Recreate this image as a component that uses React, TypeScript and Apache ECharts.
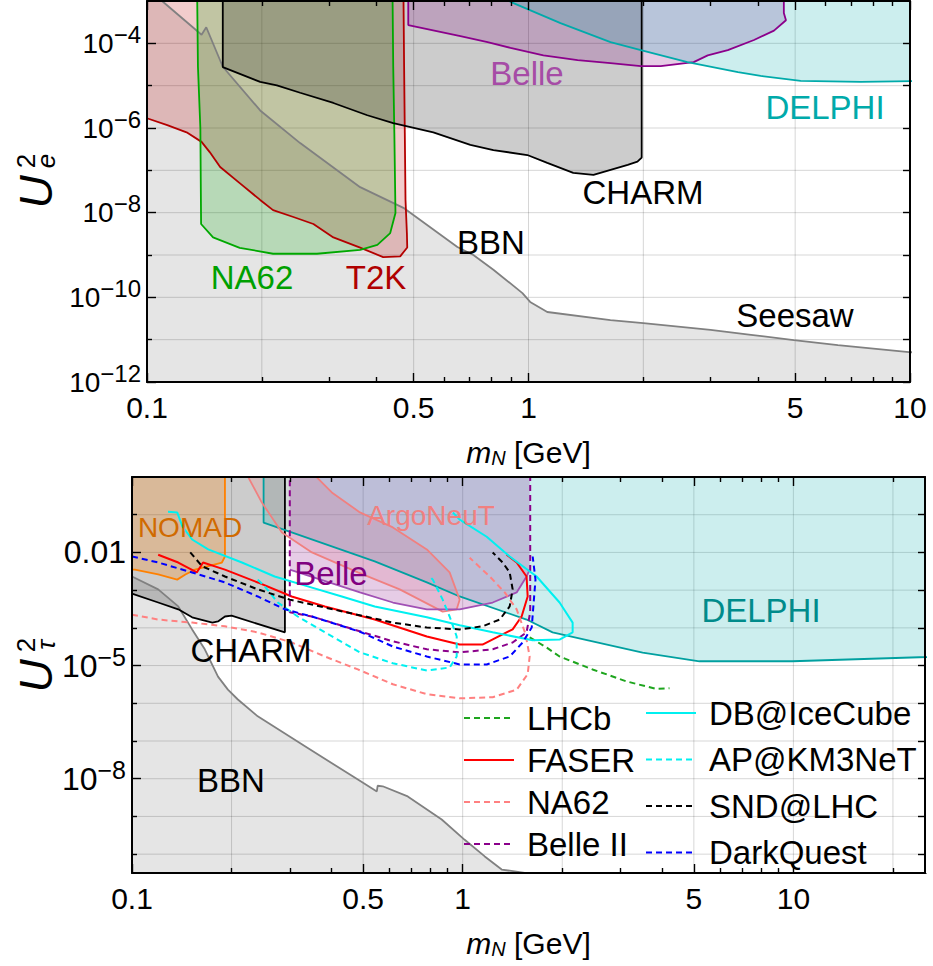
import React, { useEffect, useRef } from 'react';
import * as echarts from 'echarts';

type P = [number, number];
const FONT = "'Liberation Sans', Arial, Helvetica, sans-serif";

// ---------------- axes / ticks ----------------
const topX: P = [0.1, 10];
const topY: P = [1e-12, 1e-3];
const botX: P = [0.1, 25];
const botY: P = [Math.pow(10, -10.5), 1];

const topXMajor = [0.1, 0.5, 1, 5, 10];
const topXMinor = [0.2, 0.3, 0.4, 0.6, 0.7, 0.8, 0.9, 2, 3, 4, 6, 7, 8, 9];
const topXGrid = [0.2, 0.5, 1, 2, 5];
const topYTicks = [1e-12, 1e-11, 1e-10, 1e-9, 1e-8, 1e-7, 1e-6, 1e-5, 1e-4];
const topYLabels = [1e-12, 1e-10, 1e-8, 1e-6, 1e-4];
const topYGrid = [1e-11, 1e-10, 1e-9, 1e-8, 1e-7, 1e-6, 1e-5, 1e-4];

const botXMajor = [0.1, 0.5, 1, 5, 10];
const botXMinor = [0.2, 0.3, 0.4, 0.6, 0.7, 0.8, 0.9, 2, 3, 4, 6, 7, 8, 9, 20];
const botXGrid = [0.2, 0.5, 1, 2, 5, 10, 20];
const botYTicks = [1e-10, 1e-9, 1e-8, 1e-7, 1e-6, 1e-5, 1e-4, 1e-3, 1e-2, 1e-1];
const botYLabels = [1e-8, 1e-5, 1e-2];
const botYGrid = [1e-10, 1e-9, 1e-8, 1e-7, 1e-6, 1e-5, 1e-4, 1e-3, 1e-2, 1e-1];

// ---------------- top panel (U_e^2) regions ----------------
const bbnTop: P[] = [[0.09, 2e-3], [0.106, 2e-3], [0.1095, 1e-3], [0.139, 1.6e-4], [0.143, 2.4e-4], [0.158, 2.8e-5], [0.198, 2.6e-6], [0.252, 4.4e-7], [0.362, 4.0e-8], [0.47, 1.3e-8], [0.651, 1.55e-9], [0.717, 1.0e-9], [0.809, 4.5e-10], [0.964, 1.26e-10], [1.01, 7.8e-11], [1.12, 4.5e-11], [1.64, 2.9e-11], [2.0, 2.45e-11], [3.0, 1.7e-11], [3.83, 1.3e-11], [4.96, 9.8e-12], [6.47, 7.4e-12], [9.94, 5.1e-12], [11, 4.8e-12], [11, 1e-13], [0.09, 1e-13]];
const t2kTop: P[] = [[0.09, 2e-3], [0.09, 1.7e-6], [0.1, 1.7e-6], [0.113, 1.17e-6], [0.127, 7.9e-7], [0.139, 4.7e-7], [0.146, 2.7e-7], [0.1555, 1.2e-7], [0.175, 5e-8], [0.198, 2e-8], [0.214, 1.15e-8], [0.242, 7.9e-9], [0.273, 5.4e-9], [0.308, 2.6e-9], [0.362, 1.5e-9], [0.416, 8.9e-10], [0.461, 9.3e-10], [0.481, 1.5e-9], [0.48, 3.3e-9], [0.476, 2e-8], [0.474, 7.6e-7], [0.472, 2.8e-5], [0.47, 2e-3]];
const na62Top: P[] = [[0.1353, 2e-3], [0.136, 2.8e-5], [0.138, 1e-6], [0.1386, 5.4e-9], [0.149, 2.6e-9], [0.175, 1.48e-9], [0.214, 1.07e-9], [0.279, 1.07e-9], [0.362, 1.32e-9], [0.4016, 1.74e-9], [0.434, 3.3e-9], [0.448, 9.8e-9], [0.445, 7.6e-7], [0.442, 2.8e-5], [0.44, 2e-3]];
const charmTop: P[] = [[0.158, 2e-3], [0.158, 2.75e-5], [0.198, 1.23e-5], [0.219, 1.02e-5], [0.252, 6.8e-6], [0.308, 3.9e-6], [0.378, 2.0e-6], [0.442, 1.3e-6], [0.563, 7.9e-7], [0.704, 4e-7], [0.809, 3.0e-7], [0.993, 2.3e-7], [1.12, 1.5e-7], [1.31, 8.7e-8], [1.48, 7.8e-8], [1.82, 1.35e-7], [1.93, 1.6e-7], [1.98, 2.0e-7], [1.98, 2e-3]];
const belleTop: P[] = [[0.484, 2e-3], [0.484, 2.7e-4], [0.663, 1.48e-4], [0.781, 1.07e-4], [0.897, 7.8e-5], [1.094, 5.2e-5], [1.345, 4e-5], [1.64, 3.4e-5], [1.97, 2.9e-5], [2.22, 2.9e-5], [2.71, 3.6e-5], [2.95, 5.2e-5], [3.33, 6.9e-5], [3.9, 1.2e-4], [4.4, 2.0e-4], [4.73, 3.5e-4], [4.67, 5.2e-4], [4.67, 2e-3]];
const delphiTop: P[] = [[0.84, 2e-3], [0.897, 9.5e-4], [1.213, 3.0e-4], [1.64, 1.07e-4], [1.97, 6.9e-5], [2.61, 3.6e-5], [3.54, 2.1e-5], [4.06, 1.7e-5], [5.17, 1.3e-5], [7.43, 1.23e-5], [11, 1.3e-5], [11, 2e-3]];

// ---------------- bottom panel (U_tau^2) regions ----------------
const bbnBot: P[] = [[0.09, 3e-3], [0.1, 2.3e-3], [0.12, 1.05e-3], [0.138, 3.7e-4], [0.152, 9.1e-5], [0.166, 2.7e-5], [0.182, 5.1e-6], [0.195, 2.3e-6], [0.209, 1.26e-6], [0.24, 4.5e-7], [0.34, 6.5e-8], [0.482, 9.5e-9], [0.55, 4.6e-9], [0.553, 6.5e-9], [0.573, 6.3e-9], [0.682, 3.4e-9], [0.864, 8.3e-10], [1.014, 2.4e-10], [1.166, 8.7e-11], [1.312, 3.9e-11], [1.54, 3.2e-11], [1.8, 3.0e-11], [30, 3.0e-11], [30, 1e-12], [0.09, 1e-12]];
const charmBot: P[] = [[0.09, 1.5], [0.09, 9.5e-4], [0.1, 8.1e-4], [0.12, 4.7e-4], [0.138, 3.1e-4], [0.152, 1.9e-4], [0.175, 1.38e-4], [0.182, 1.48e-4], [0.191, 2e-4], [0.2, 2.1e-4], [0.29, 7.6e-5], [0.29, 1.5]];
const nomadBot: P[] = [[0.09, 1.5], [0.09, 3.5e-3], [0.102, 3.5e-3], [0.12, 2.6e-3], [0.137, 1.9e-3], [0.145, 2.6e-3], [0.155, 3.5e-3], [0.187, 5.4e-3], [0.191, 7.8e-3], [0.191, 1.5]];
const delphiBot: P[] = [[0.25, 1.5], [0.25, 6.2e-2], [0.304, 3.4e-2], [0.542, 5.8e-3], [0.779, 1.6e-3], [0.979, 6.8e-4], [1.56, 1.66e-4], [1.87, 7.6e-5], [2.47, 4.4e-5], [3.5, 2.2e-5], [5.2, 1.3e-5], [9.93, 1.3e-5], [24, 1.66e-5], [30, 1.7e-5], [30, 1.5]];
const argoBot: P[] = [[0.219, 1.5], [0.247, 0.21], [0.284, 3.4e-2], [0.35, 1e-2], [0.482, 2.95e-3], [0.645, 1.05e-3], [0.87, 2.7e-4], [0.959, 3.1e-4], [0.979, 5.6e-4], [0.913, 2.95e-3], [0.779, 1.2e-2], [0.615, 4.6e-2], [0.489, 0.115], [0.402, 0.39], [0.345, 1.5]];
const belleBot: P[] = [[0.3, 1.5], [0.3, 3.5e-3], [0.489, 8.7e-4], [0.615, 4.7e-4], [0.779, 3.1e-4], [0.979, 3.1e-4], [1.232, 4.7e-4], [1.456, 8.7e-4], [1.56, 2.3e-3], [1.594, 3.5e-3], [1.594, 1.5]];

// ---------------- bottom panel projections ----------------
const lhcb: P[] = [[1.594, 5.6e-5], [1.794, 3e-5], [1.963, 1.74e-5], [2.47, 7.9e-6], [3.13, 3.8e-6], [3.85, 2.4e-6], [4.22, 2.5e-6]];
const faser: P[] = [[0.12, 8.7e-3], [0.138, 5.4e-3], [0.157, 2.95e-3], [0.164, 5.4e-3], [0.191, 3.5e-3], [0.24, 1.6e-3], [0.304, 6.8e-4], [0.383, 3.7e-4], [0.542, 1.66e-4], [0.779, 5.9e-5], [0.979, 3.6e-5], [1.148, 3.6e-5], [1.267, 5.6e-5], [1.416, 9.1e-5], [1.507, 2e-4], [1.572, 6.8e-4], [1.56, 2.3e-3], [1.456, 5.4e-3], [1.358, 8.7e-3]];
const na62Bot: P[] = [[0.1, 2.24e-4], [0.12, 1.66e-4], [0.152, 1.38e-4], [0.191, 1.1e-4], [0.24, 7.6e-5], [0.304, 4.1e-5], [0.383, 1.74e-5], [0.482, 7.9e-6], [0.615, 3.2e-6], [0.779, 1.74e-6], [0.979, 1.35e-6], [1.232, 1.45e-6], [1.456, 2.3e-6], [1.572, 5.9e-6], [1.594, 1.74e-5], [1.549, 6.8e-5], [1.456, 3.1e-4], [1.34, 8.7e-4], [1.207, 2.3e-3], [1.05, 7.2e-3]];
const belle2: P[] = [[0.3, 1.5], [0.3, 2.6e-4], [0.35, 2e-4], [0.402, 1.38e-4], [0.5, 7.6e-5], [0.615, 4.4e-5], [0.779, 2.7e-5], [0.979, 2.24e-5], [1.232, 2.7e-5], [1.416, 4.1e-5], [1.56, 7.6e-5], [1.6, 2.6e-4], [1.6, 1.5]];
const iceCube: P[] = [[0.1285, 0.12], [0.137, 0.115], [0.142, 4.9e-2], [0.152, 2.2e-2], [0.17, 1.2e-2], [0.215, 5.4e-3], [0.27, 2.3e-3], [0.34, 1.26e-3], [0.431, 6.8e-4], [0.542, 3.7e-4], [0.779, 1.9e-4], [0.979, 1.17e-4], [1.232, 7.6e-5], [1.627, 4.7e-5], [1.963, 4.9e-5], [2.15, 7.6e-5], [2.15, 1.38e-4], [1.963, 4.7e-4], [1.673, 2.3e-3], [1.387, 7.8e-3], [1.182, 2.6e-2], [0.979, 7.4e-2], [0.933, 0.115]];
const km3net: P[] = [[0.24, 1.9e-3], [0.252, 1.26e-3], [0.276, 4.7e-4], [0.317, 2e-4], [0.383, 7.6e-5], [0.489, 2.24e-5], [0.615, 1.15e-5], [0.779, 7.4e-6], [0.913, 8.9e-6], [0.959, 1.74e-5], [0.959, 5.9e-5], [0.913, 2e-4], [0.87, 5.6e-4], [0.812, 1.9e-3], [0.795, 2.3e-3]];
const sndLhc: P[] = [[0.15, 1e-2], [0.163, 4.3e-3], [0.191, 2.3e-3], [0.24, 1.05e-3], [0.3, 5.6e-4], [0.405, 3.1e-4], [0.615, 1.38e-4], [0.779, 1.02e-4], [0.979, 9.1e-5], [1.148, 1.1e-4], [1.294, 1.66e-4], [1.387, 3.7e-4], [1.416, 1.05e-3], [1.387, 2.95e-3], [1.321, 5.4e-3], [1.232, 1e-2]];
const darkQuest: P[] = [[0.1, 7.8e-3], [0.12, 5.4e-3], [0.152, 2.95e-3], [0.191, 1.6e-3], [0.24, 6.8e-4], [0.29, 3.1e-4], [0.35, 2e-4], [0.489, 7.9e-5], [0.615, 3.2e-5], [0.779, 1.74e-5], [0.979, 1.07e-5], [1.182, 1.07e-5], [1.387, 1.74e-5], [1.518, 4.1e-5], [1.617, 1.02e-4], [1.639, 4.7e-4], [1.66, 1.9e-3], [1.628, 7.8e-3]];

const legendLeft = ['LHCb', 'FASER', 'NA62', 'Belle II'];
const legendRight = ['DB@IceCube', 'AP@KM3NeT', 'SND@LHC', 'DarkQuest'];

// --------------------------------------------------------------
const DASH = [6, 4];

function gridLines(xi: number, yi: number, xs: number[], ys: number[], xr: P, yr: P) {
  const data = [...xs.map((v) => [v, yr[0], 0]), ...ys.map((v) => [xr[0], v, 1])];
  return {
    type: 'custom', xAxisIndex: xi, yAxisIndex: yi, silent: true, z: 1, clip: true, data,
    renderItem: (_p: any, api: any) => {
      const kind = api.value(2);
      let a, b;
      if (kind === 0) { const v = api.value(0); a = api.coord([v, yr[0]]); b = api.coord([v, yr[1]]); }
      else { const v = api.value(1); a = api.coord([xr[0], v]); b = api.coord([xr[1], v]); }
      return { type: 'line', shape: { x1: a[0], y1: a[1], x2: b[0], y2: b[1] }, style: { stroke: 'rgba(0,0,0,0.16)', lineWidth: 1 } };
    },
  };
}

function region(name: string, pts: P[], fill: string, stroke: string, xi: number, yi: number, edge?: P[]) {
  return [
    {
      type: 'custom', name: name + ' area', xAxisIndex: xi, yAxisIndex: yi, clip: true, silent: true, z: 2, data: pts,
      renderItem: (params: any, api: any) => params.dataIndex === 0
        ? { type: 'polygon', shape: { points: pts.map((p) => api.coord(p)) }, style: { fill, stroke: 'none' } }
        : null,
    },
    {
      type: 'line', name: name + ' edge', xAxisIndex: xi, yAxisIndex: yi, data: edge ?? pts, showSymbol: false, symbol: 'none',
      lineStyle: { color: stroke, width: 1.8 }, z: 3, silent: true, clip: true,
    },
  ];
}

function proj(name: string, pts: P[], color: string, dashed: boolean) {
  return {
    type: 'line', name, xAxisIndex: 4, yAxisIndex: 3, data: pts, showSymbol: false, symbol: 'none', clip: true, z: 4,
    itemStyle: { color }, lineStyle: { color, width: 2, type: dashed ? DASH : 'solid' }, emphasis: { disabled: true },
  };
}

const fmtX = (v: number) => String(+v.toPrecision(6));
const expLabel = (v: number) => {
  const e = Math.round(Math.log10(v));
  if (e === -2) return '{b|0.01}';
  return `{b|10}{s|\u2212${-e}}`;
};

function xAxes(gridIndex: number, range: P, major: number[], minor: number[]) {
  const base = { type: 'log', logBase: 10, gridIndex, min: range[0], max: range[1], z: 10, splitLine: { show: false } };
  const tick = (vals: number[], len: number) => ({ show: true, inside: true, length: len, customValues: vals, lineStyle: { color: '#000', width: 1.4 } });
  return [
    {
      ...base, position: 'bottom',
      axisLine: { show: true, onZero: false, lineStyle: { color: '#000', width: 2 } },
      axisTick: tick(major, 9),
      axisLabel: { show: true, customValues: major, formatter: fmtX, color: '#000', fontSize: 30, fontFamily: FONT, margin: 10 },
      name: '{i|m}{n|N} [GeV]', nameLocation: 'middle', nameGap: 54,
      nameTextStyle: {
        color: '#000', fontSize: 30, fontFamily: FONT,
        rich: { i: { fontStyle: 'italic', fontSize: 30, fontFamily: FONT, color: '#000' }, n: { fontStyle: 'italic', fontSize: 20, fontFamily: FONT, color: '#000', padding: [12, 0, 0, 0] } },
      },
    },
    { ...base, position: 'bottom', axisLine: { show: false, onZero: false }, axisTick: tick(minor, 5), axisLabel: { show: false } },
    { ...base, position: 'top', axisLine: { show: true, onZero: false, lineStyle: { color: '#000', width: 2 } }, axisTick: tick(major, 9), axisLabel: { show: false } },
    { ...base, position: 'top', axisLine: { show: false, onZero: false }, axisTick: tick(minor, 5), axisLabel: { show: false } },
  ];
}

function yAxes(gridIndex: number, range: P, ticks: number[], labels: number[], fs: number, ss: number) {
  const base = { type: 'log', logBase: 10, gridIndex, min: range[0], max: range[1], z: 10, splitLine: { show: false } };
  const minorTicks = ticks.filter((t) => !labels.includes(t));
  return [
    {
      ...base, position: 'left',
      axisLine: { show: true, onZero: false, lineStyle: { color: '#000', width: 2 } },
      axisTick: { show: true, inside: true, length: 9, customValues: labels, lineStyle: { color: '#000', width: 1.4 } },
      axisLabel: {
        show: true, customValues: labels, formatter: expLabel, margin: 6, color: '#000', fontFamily: FONT, fontSize: fs,
        rich: { b: { fontSize: fs, fontFamily: FONT, color: '#000' }, s: { fontSize: ss, fontFamily: FONT, color: '#000', padding: [0, 0, 18, 0] } },
      },
    },
    {
      ...base, position: 'right',
      axisLine: { show: true, onZero: false, lineStyle: { color: '#000', width: 2 } },
      axisTick: { show: true, inside: true, length: 7, customValues: ticks, lineStyle: { color: '#000', width: 1.4 } },
      axisLabel: { show: false },
    },
    { ...base, position: 'left', axisLine: { show: false, onZero: false }, axisTick: { show: true, inside: true, length: 5, customValues: minorTicks, lineStyle: { color: '#000', width: 1.4 } }, axisLabel: { show: false } },
  ];
}

function label(text: string, x: number, y: number, fill: string, size = 33) {
  return {
    type: 'text', x, y, z: 100, silent: true,
    style: { text, fill, fontSize: size, fontFamily: FONT, align: 'center', verticalAlign: 'middle', textAlign: 'center', textVerticalAlign: 'middle' },
  };
}

function yTitle(x: number, y: number, sub: string) {
  const st = (text: string, size: number) => ({ text, fill: '#000', fontSize: size, fontStyle: 'italic', fontFamily: FONT, align: 'center', verticalAlign: 'middle', textAlign: 'center', textVerticalAlign: 'middle' });
  return {
    type: 'group', x, y, rotation: Math.PI / 2, z: 100, silent: true,
    children: [
      { type: 'text', x: 0, y: 0, style: st('U', 46) },
      { type: 'text', x: 31, y: -10, style: { ...st('2', 26), fontStyle: 'normal' } },
      { type: 'text', x: 31, y: 10, style: st(sub, 26) },
    ],
  };
}

function buildOption() {
  const yT = yAxes(0, topY, topYTicks, topYLabels, 28, 24); // y indices 0,1,2
  const yB = yAxes(1, botY, botYTicks, botYLabels, 32, 25); // y indices 3,4,5
  const series: any[] = [
    gridLines(0, 0, topXGrid, topYGrid, topX, topY),
    ...region('BBN top', bbnTop, 'rgba(0,0,0,0.1)', '#808080', 0, 0),
    ...region('T2K', t2kTop, 'rgba(190,0,0,0.2)', '#b40000', 0, 0),
    ...region('NA62 top', na62Top, 'rgba(0,170,0,0.2)', '#00a800', 0, 0),
    ...region('CHARM top', charmTop, 'rgba(0,0,0,0.2)', '#000000', 0, 0),
    ...region('Belle top', belleTop, 'rgba(128,0,128,0.2)', '#8b008b', 0, 0),
    ...region('DELPHI top', delphiTop, 'rgba(0,170,170,0.2)', '#00aaaa', 0, 0),

    gridLines(4, 3, botXGrid, botYGrid, botX, botY),
    ...region('BBN bottom', bbnBot, 'rgba(0,0,0,0.1)', '#808080', 4, 3),
    ...region('CHARM bottom', charmBot, 'rgba(0,0,0,0.2)', '#000000', 4, 3),
    ...region('NOMAD', nomadBot, 'rgba(255,128,0,0.25)', '#ff8000', 4, 3),
    ...region('DELPHI bottom', delphiBot, 'rgba(0,170,170,0.2)', '#00a0a0', 4, 3),
    ...region('ArgoNeuT', argoBot, 'rgba(240,128,128,0.2)', '#f08080', 4, 3),
    ...region('Belle bottom', belleBot, 'rgba(128,0,128,0.2)', '#a050b4', 4, 3, belleBot.slice(1, -1)),

    proj('LHCb', lhcb, '#1ea51e', true),
    proj('FASER', faser, '#ff0000', false),
    proj('NA62', na62Bot, '#ff8080', true),
    proj('Belle II', belle2, '#8b008b', true),
    proj('DB@IceCube', iceCube, '#00f0f0', false),
    proj('AP@KM3NeT', km3net, '#00f0f0', true),
    proj('SND@LHC', sndLhc, '#000000', true),
    proj('DarkQuest', darkQuest, '#0000ff', true),
  ];

  const legendCommon = {
    orient: 'vertical', padding: 0, itemWidth: 50, itemHeight: 14, selectedMode: false, z: 50,
    itemStyle: { opacity: 0 },
    textStyle: { fontSize: 33, fontFamily: FONT, color: '#000', lineHeight: 34, padding: [0, 0, 0, 8] },
  };

  return {
    animation: false,
    backgroundColor: '#ffffff',
    grid: [
      { left: 147, top: 1, width: 763, height: 381, outerBoundsMode: 'none' },
      { left: 132, top: 477, width: 793, height: 396, outerBoundsMode: 'none' },
    ],
    xAxis: [...xAxes(0, topX, topXMajor, topXMinor), ...xAxes(1, botX, botXMajor, botXMinor)],
    yAxis: [...yT, ...yB],
    legend: [
      { ...legendCommon, data: legendLeft, left: 463, top: 701, itemGap: 8 },
      { ...legendCommon, data: legendRight, left: 645, top: 696, itemGap: 12.5 },
    ],
    graphic: [
      label('Belle', 527, 73, '#a64ca6'),
      label('DELPHI', 825, 107, '#00aaaa'),
      label('CHARM', 643, 192, '#000000'),
      label('BBN', 491, 242, '#000000'),
      label('Seesaw', 795, 315, '#000000'),
      label('NA62', 252, 277, '#00a000'),
      label('T2K', 376, 277, '#b00000'),
      label('NOMAD', 190, 527, '#d06a00', 28),
      label('ArgoNeuT', 431, 515, '#f08080', 28),
      label('Belle', 331, 573, '#800080'),
      label('DELPHI', 761, 610, '#008b8b'),
      label('CHARM', 251, 650, '#000000'),
      label('BBN', 231, 780, '#000000'),
      yTitle(36, 192, 'e'),
      yTitle(36, 676, '\u03c4'),
    ],
    series,
  };
}

export default function App() {
  const ref = useRef<HTMLDivElement>(null);
  useEffect(() => {
    const chart = echarts.init(ref.current!, null, { renderer: 'svg' });
    chart.setOption(buildOption() as any);
    return () => chart.dispose();
  }, []);
  return <div ref={ref} style={{ position: 'absolute', left: 0, top: 0, width: 933, height: 966, background: '#fff' }} />;
}
